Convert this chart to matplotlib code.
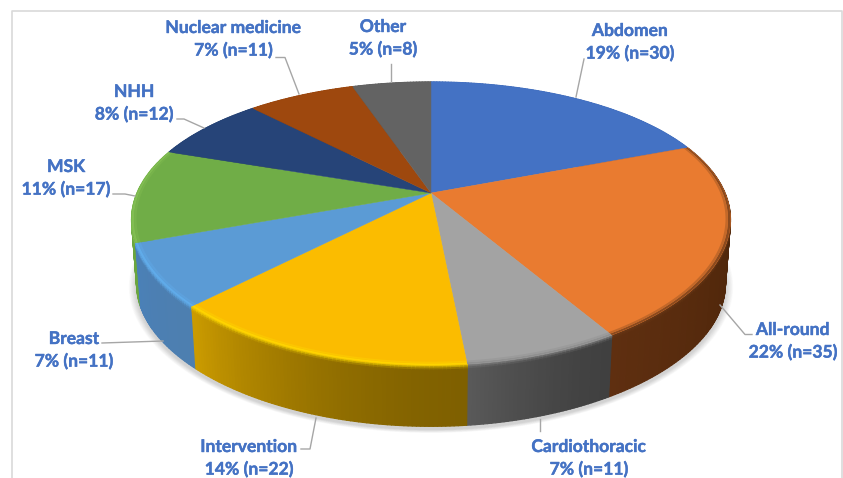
import numpy as np
from matplotlib import pyplot as plt
from matplotlib import patheffects
from matplotlib.collections import PolyCollection
from matplotlib.colors import to_rgb
from matplotlib.patches import Polygon

labels = ["Abdomen", "All-round", "Cardiothoracic", "Intervention", "Breast",
          "MSK", "NHH", "Nuclear medicine", "Other"]
counts = [30, 35, 11, 22, 11, 17, 12, 11, 8]
percents = [19, 22, 7, 14, 7, 11, 8, 7, 5]

top_colors = ["#4472C4", "#E97B30", "#A3A3A3", "#FBBC00", "#5B9BD5",
              "#70AD47", "#264478", "#9E480E", "#636363"]
# wall colour at the start and end of each slice (clockwise)
wall_colors = [("#2F4F88", "#2F4F88"), ("#4A2409", "#5F2F10"), ("#404040", "#5A5A5A"),
               ("#7F6000", "#CC9C00"), ("#4D7FB0", "#4A80B8"), ("#6AA63E", "#6AA63E"),
               ("#1A2F55", "#1A2F55"), ("#6E320A", "#6E320A"), ("#454545", "#454545")]
bevel_colors = ["#4472C4", "#6B3A18", "#8A8A8A", "#FFDC00", "#62B0F0",
                "#86C255", "#264478", "#9E480E", "#636363"]

label_pos = [(630, 31), (793, 330), (589, 447), (249, 447), (74, 339),
             (66, 167), (134, 92), (233.5, 28), (383, 27)]
leaders = [[(584, 59), (576, 97)],
           [(720, 305), (745, 334.5), (752, 334.5)],
           [(539.5, 419), (539.5, 431)],
           [(301, 449), (310, 449), (316, 418)],
           [(102, 343), (163, 341)],
           [(113, 194), (125, 194), (135, 196)],
           [(177, 119), (184, 119), (204, 128)],
           [(276, 57.5), (285, 57.5), (299, 94)],
           [(391, 64), (391, 81)]]

TEXT_COLOR = "#4472C4"
CX = 431


def project(theta, r=1.0, s=0.0):
    # s=0 is the top face of the pie, s=1 the bottom face
    a = 294 - 5 * s
    b = 135 - 3 * s
    y0 = 193 + 65 * s
    u = r * np.sin(theta)
    v = -r * np.cos(theta)
    return CX + a * u / (1 - 0.19 * v), y0 + b * v / (1 - 0.2157 * v)


def mix(c1, c2, t):
    c1, c2 = np.array(to_rgb(c1)), np.array(to_rgb(c2))
    return tuple(c1 + (c2 - c1) * t)


fig = plt.figure(figsize=(8.43, 4.78), dpi=100)
ax = fig.add_axes([0, 0, 1, 1])
ax.set_xlim(0, 843)
ax.set_ylim(478, 0)
ax.axis("off")

# chart frame, no bottom edge visible
ax.plot([11.5, 11.5, 842, 842], [478, 10.5, 10.5, 478], color="#D9D9D9", lw=1.2)

edges = np.cumsum([0] + counts) / sum(counts) * 2 * np.pi
ring = np.linspace(0, 2 * np.pi, 361)

# soft shadow under the pie
for i in range(12):
    x, y = project(ring, 1.0, 1.0)
    grow = 1 + (12 - i) * 0.0022
    pts = np.column_stack([CX + (x - CX) * grow, 290 + (y - 290) * grow + 3])
    ax.add_patch(Polygon(pts, closed=True, fc="#707070", ec="none", alpha=0.028, zorder=1))

# side wall, back to front
quads, cols = [], []
for i, (start, end) in enumerate(zip(edges[:-1], edges[1:])):
    steps = max(int(np.degrees(end - start) * 1.5), 2)
    th = np.linspace(start, end, steps + 1)
    for j in range(steps):
        t = ((j + 0.5) / steps) ** 1.6
        base = mix(wall_colors[i][0], wall_colors[i][1], t)
        s_levels = [0, 0.025, 0.05, 0.08, 1.0]
        for m in range(len(s_levels) - 1):
            s1, s2 = s_levels[m], s_levels[m + 1]
            x1, y1 = project(th[j], 1.0, s1)
            x2, y2 = project(th[j + 1], 1.0, s1)
            x3, y3 = project(th[j + 1], 1.0, s2)
            x4, y4 = project(th[j], 1.0, s2)
            if s2 < 1:
                col = mix(bevel_colors[i], base, (m + 0.5) / 3)
            else:
                col = base
            quads.append([(x1, y1), (x2, y2), (x3, y3), (x4, y4)])
            cols.append((-np.cos(th[j]), col))
order = np.argsort([c[0] for c in cols], kind="stable")
ax.add_collection(PolyCollection([quads[i] for i in order],
                                 facecolors=[cols[i][1] for i in order],
                                 edgecolors=[cols[i][1] for i in order],
                                 linewidths=0.9, zorder=2))

# top face
for i, (start, end) in enumerate(zip(edges[:-1], edges[1:])):
    th = np.linspace(start, end, 120)
    x, y = project(th)
    pts = np.vstack([[CX, 193], np.column_stack([x, y])])
    ax.add_patch(Polygon(pts, closed=True, fc=top_colors[i], ec=top_colors[i], lw=0.3, zorder=3))

    # rim blending from face to bevel colour
    for n, (r1, r2) in enumerate([(0.992, 1.0), (0.984, 0.992)]):
        xa, ya = project(th, r1)
        xb, yb = project(th, r2)
        rim = np.vstack([np.column_stack([xa, ya]), np.column_stack([xb, yb])[::-1]])
        col = mix(top_colors[i], bevel_colors[i], 0.75 - n * 0.45)
        ax.add_patch(Polygon(rim, closed=True, fc=col, ec="none", zorder=4))

# leader lines
for pts in leaders:
    xs, ys = zip(*pts)
    ax.plot(xs, ys, color="#A6A6A6", lw=1.0, zorder=5)

# labels, a thin stroke to get the weight of the original
thick = [patheffects.withStroke(linewidth=0.3, foreground=TEXT_COLOR)]
for name, n, pct, (x, y) in zip(labels, counts, percents, label_pos):
    ax.text(x, y, name, ha="center", va="center", color=TEXT_COLOR, fontsize=12.6,
            fontfamily="Lato", fontweight="bold", zorder=6, path_effects=thick)
    ax.text(x, y + 22.5, f"{pct}% (n={n})", ha="center", va="center", color=TEXT_COLOR,
            fontsize=12.6, fontfamily="Lato", fontweight="bold", zorder=6, path_effects=thick)

fig.savefig("out.png", dpi=100)
